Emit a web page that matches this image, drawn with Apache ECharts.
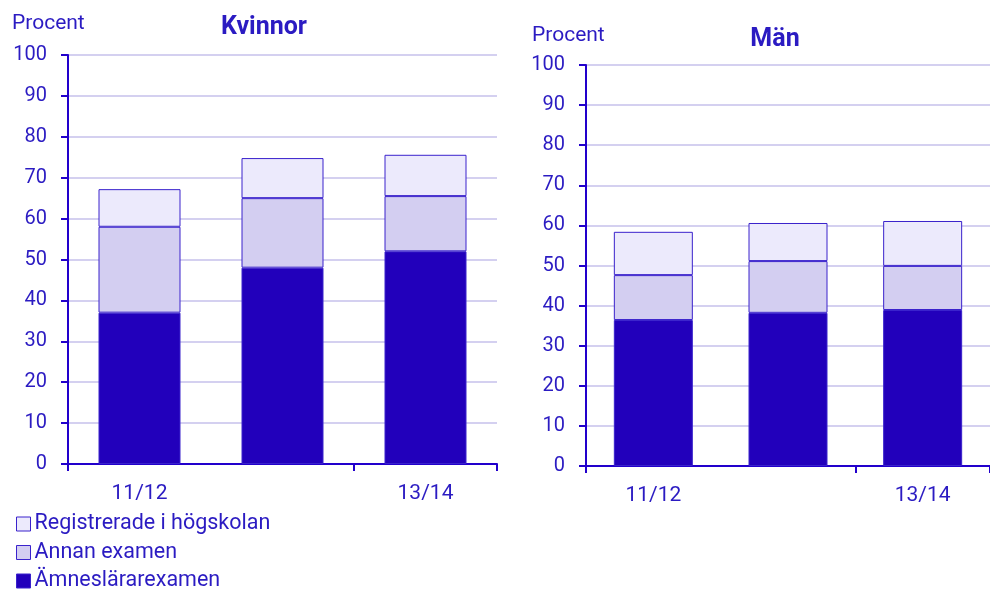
<!DOCTYPE html>
<html>
<head>
<meta charset="utf-8">
<script src="https://cdn.jsdelivr.net/npm/echarts@6/dist/echarts.min.js"></script>
<style>
  html, body { margin: 0; padding: 0; background: #fff; }
  #chart { width: 990px; height: 589px; }
</style>
</head>
<body>
<div id="chart"></div>
<script>
  var years = ['11/12', '12/13', '13/14'];
  var seriesNames = ['Ämneslärarexamen', 'Annan examen', 'Registrerade i högskolan'];
  var kvinnorAmne = [37, 48, 52];
  var kvinnorAnnan = [21, 17, 13.5];
  var kvinnorReg = [9.2, 9.8, 10.1];
  var manAmne = [36.4, 38.2, 38.9];
  var manAnnan = [11.2, 12.9, 11];
  var manReg = [10.8, 9.5, 11.2];
  var yTicks = [0, 100, 10];

  var textColor = '#2b1bc2';
  var axisColor = '#2200cc';
  var colors = ['#2200bb', '#d3cef1', '#eceafc'];
  var font = 'Roboto';

  function xAxis(idx) {
    return {
      type: 'category', gridIndex: idx, data: years,
      axisLine: { lineStyle: { color: axisColor, width: 2 } },
      axisTick: { show: true, length: 7, lineStyle: { color: axisColor, width: 2 } },
      axisLabel: { interval: 1, color: textColor, fontSize: 21, fontFamily: font, margin: 19 }
    };
  }
  function yAxis(idx) {
    return {
      type: 'value', gridIndex: idx, min: yTicks[0], max: yTicks[1], interval: yTicks[2],
      axisLine: { show: true, lineStyle: { color: axisColor, width: 2 } },
      axisTick: { show: true, length: 7, lineStyle: { color: axisColor, width: 2 } },
      axisLabel: { color: textColor, fontSize: 20, fontFamily: font, margin: 21 },
      splitLine: { lineStyle: { color: '#d4d0f0', width: 2 } }
    };
  }
  function bar(name, data, idx, color, w) {
    return {
      name: name, type: 'bar', stack: 's' + idx, xAxisIndex: idx, yAxisIndex: idx,
      data: data, barWidth: w,
      itemStyle: { color: color, borderColor: '#3a22cc', borderWidth: 1 }
    };
  }

  var chart = echarts.init(document.getElementById('chart'));
  chart.setOption({
    animation: false,
    textStyle: { fontFamily: font },
    title: [
      { text: 'Kvinnor', left: 259, top: 10, textAlign: 'center',
        textStyle: { color: textColor, fontSize: 25, fontWeight: 'bold', fontFamily: font } },
      { text: 'Män', left: 770, top: 22, textAlign: 'center',
        textStyle: { color: textColor, fontSize: 25, fontWeight: 'bold', fontFamily: font } },
      { text: 'Procent', left: 7, top: 8,
        textStyle: { color: textColor, fontSize: 21, fontWeight: 'normal', fontFamily: font } },
      { text: 'Procent', left: 527, top: 20,
        textStyle: { color: textColor, fontSize: 21, fontWeight: 'normal', fontFamily: font } }
    ],
    legend: {
      orient: 'vertical', left: 11, top: 508, height: 90, itemGap: 6.5,
      itemWidth: 14, itemHeight: 14, icon: 'rect',
      data: [seriesNames[2], seriesNames[1], seriesNames[0]],
      textStyle: { color: textColor, fontSize: 21.5, fontFamily: font, padding: [0, 0, 0, -1] },
      itemStyle: { borderColor: '#3a22cc', borderWidth: 1 }
    },
    grid: [
      { left: 68, right: 493, top: 55, bottom: 125 },
      { left: 586, right: -9, top: 65, bottom: 123 }
    ],
    xAxis: [xAxis(0), xAxis(1)],
    yAxis: [yAxis(0), yAxis(1)],
    series: [
      bar(seriesNames[0], kvinnorAmne, 0, colors[0], 82),
      bar(seriesNames[1], kvinnorAnnan, 0, colors[1], 82),
      bar(seriesNames[2], kvinnorReg, 0, colors[2], 82),
      bar(seriesNames[0], manAmne, 1, colors[0], 79),
      bar(seriesNames[1], manAnnan, 1, colors[1], 79),
      bar(seriesNames[2], manReg, 1, colors[2], 79)
    ]
  });
</script>
</body>
</html>
